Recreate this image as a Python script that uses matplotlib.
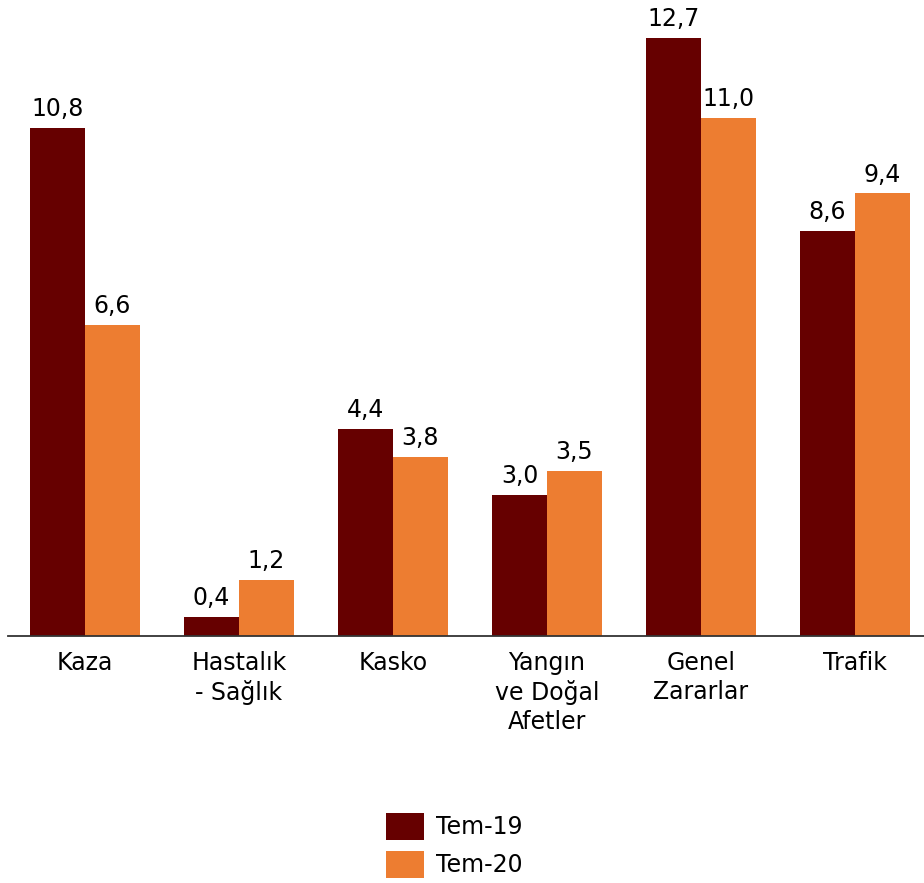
import numpy as np
from matplotlib import pyplot as plt

# Data
categories = ['Kaza', 'Hastalık\n- Sağlık', 'Kasko', 'Yangın\nve Doğal\nAfetler', 'Genel\nZararlar', 'Trafik']
tem19 = [10.8, 0.4, 4.4, 3.0, 12.7, 8.6]
tem20 = [6.6, 1.2, 3.8, 3.5, 11.0, 9.4]
series_names = ['Tem-19', 'Tem-20']

c19 = '#660000'
c20 = '#ED7D31'

plt.rcParams['font.family'] = ['DejaVu Sans']
fs = 17

fig = plt.figure(figsize=(9.24, 8.83), dpi=100)
ax = fig.add_axes([8/924, 1 - 636/883, 916/924, 636/883])

x = np.arange(len(categories))
w = 0.357
b1 = ax.bar(x - w/2, tem19, w, color=c19, label=series_names[0])
b2 = ax.bar(x + w/2, tem20, w, color=c20, label=series_names[1])

def fmt(v):
    return ('%.1f' % v).replace('.', ',')

for bars, vals in ((b1, tem19), (b2, tem20)):
    for r, v in zip(bars, vals):
        ax.annotate(fmt(v), (r.get_x() + r.get_width()/2, v),
                    xytext=(0, 5), textcoords='offset points',
                    ha='center', va='bottom', fontsize=fs, color='black')

ax.set_xlim(-0.5, 5.448)
ax.set_ylim(0, 13.51)
ax.set_xticks(x)
ax.set_xticklabels(categories, fontsize=fs, linespacing=1.25)
ax.tick_params(axis='x', length=0, pad=11)
ax.set_yticks([])
for s in ['top', 'right', 'left']:
    ax.spines[s].set_visible(False)
ax.spines['bottom'].set_linewidth(1.3)
ax.spines['bottom'].set_color('#333333')

fig.legend(handles=[b1, b2], loc='upper left',
           bbox_to_anchor=(386/924, 1 - 813/883), frameon=False,
           fontsize=fs, borderaxespad=0, borderpad=0,
           handlelength=1.6, handleheight=1.4, handletextpad=0.5,
           labelspacing=0.45)

fig.savefig('out.png', dpi=100)
